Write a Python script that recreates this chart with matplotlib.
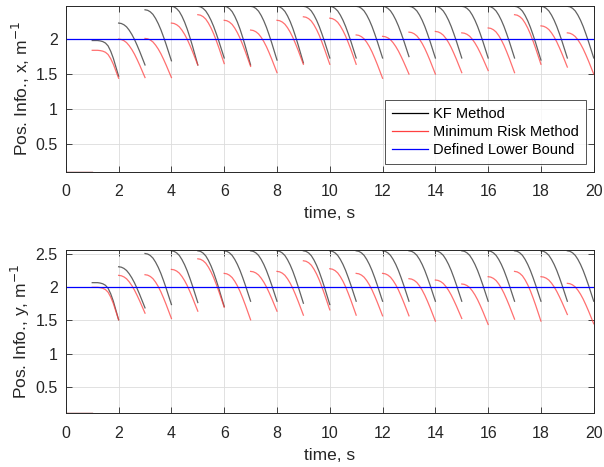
import numpy as np
import matplotlib
matplotlib.use('Agg')
import matplotlib.pyplot as plt

plt.rcParams['font.family'] = ['Liberation Sans', 'DejaVu Sans']

# Data: each segment runs from t0 to t0 + 1 s
seg_start = [1, 2, 3, 4, 5, 6, 7, 8, 9, 10, 11, 12, 13, 14, 15, 16, 17, 18, 19]

# x channel (top plot)
x_kf_start = [1.98, 2.23, 2.42, 2.47, 2.47, 2.47, 2.47, 2.47, 2.47, 2.47,
              2.47, 2.47, 2.47, 2.47, 2.47, 2.47, 2.47, 2.47, 2.47]
x_kf_end = [1.47, 1.63, 1.69, 1.63, 1.73, 1.63, 1.70, 1.66, 1.73, 1.73,
            1.73, 1.75, 1.73, 1.73, 1.73, 1.73, 1.70, 1.73, 1.73]
x_mr_start = [1.84, 2.00, 2.01, 2.23, 2.35, 2.27, 2.13, 2.27, 2.32, 2.30,
              2.06, 2.04, 2.10, 2.11, 2.09, 2.16, 2.35, 2.19, 2.09]
x_mr_end = [1.44, 1.45, 1.45, 1.63, 1.65, 1.61, 1.52, 1.64, 1.64, 1.64,
            1.44, 1.50, 1.50, 1.52, 1.55, 1.52, 1.64, 1.60, 1.50]

# y channel (bottom plot)
y_kf_start = [2.07, 2.31, 2.51, 2.55, 2.55, 2.55, 2.55, 2.55, 2.55, 2.55,
              2.55, 2.55, 2.55, 2.55, 2.55, 2.55, 2.55, 2.55, 2.55]
y_kf_end = [1.51, 1.69, 1.74, 1.77, 1.71, 1.79, 1.79, 1.76, 1.74, 1.79,
            1.79, 1.79, 1.79, 1.79, 1.79, 1.79, 1.79, 1.79, 1.79]
y_mr_start = [2.00, 2.18, 2.19, 2.27, 2.43, 2.21, 2.24, 2.24, 2.40, 2.28,
              2.21, 2.21, 2.13, 2.11, 2.05, 2.16, 2.24, 2.16, 2.06]
y_mr_end = [1.51, 1.61, 1.53, 1.64, 1.70, 1.51, 1.64, 1.58, 1.66, 1.58,
            1.57, 1.57, 1.49, 1.53, 1.44, 1.52, 1.49, 1.59, 1.45]

# normalised drop within one second
tau = [0.0, 0.1, 0.2, 0.3, 0.4, 0.5, 0.6, 0.7, 0.8, 0.9, 1.0]
drop = [0.0, 0.01, 0.04, 0.09, 0.17, 0.27, 0.39, 0.53, 0.68, 0.84, 1.0]
drop_first = [0.0, 0.0, 0.0, 0.01, 0.03, 0.07, 0.15, 0.30, 0.50, 0.75, 1.0]

init_t = [0, 1]
init_val = [0.1, 0.1]
lower_bound = 2.0

kf_color = '#202020'
mr_color = '#ff4040'
lb_color = '#0000ff'


def draw_panel(ax, kf_s, kf_e, mr_s, mr_e, ylim, yticks, ylabel):
    ax.plot(init_t, init_val, color=kf_color, lw=0.9)
    ax.plot(init_t, init_val, color=mr_color, lw=0.9)
    for i, t0 in enumerate(seg_start):
        prof = np.array(drop_first if i == 0 else drop)
        tt = t0 + np.array(tau)
        ax.plot(tt, kf_s[i] + (kf_e[i] - kf_s[i]) * prof, color=kf_color, lw=0.9, alpha=0.7)
        ax.plot(tt, mr_s[i] + (mr_e[i] - mr_s[i]) * prof, color=mr_color, lw=0.9, alpha=0.75)
    ax.axhline(lower_bound, color=lb_color, lw=0.9)
    ax.set_xlim(0, 20)
    ax.set_ylim(*ylim)
    ax.set_xticks(np.arange(0, 21, 2))
    ax.set_yticks(yticks)
    ax.set_yticklabels([('%g' % v) for v in yticks])
    ax.grid(True, color='#dcdcdc', lw=0.6)
    ax.set_axisbelow(True)
    ax.tick_params(direction='in', top=True, right=True, labelsize=11.5,
                   colors='#262626', length=4, width=0.6)
    ax.tick_params(axis='x', pad=9)
    ax.tick_params(axis='y', pad=6)
    for s in ax.spines.values():
        s.set_color('#262626')
        s.set_linewidth(0.7)
    ax.set_xlabel('time, s', fontsize=12.5, color='#262626', labelpad=5)
    ax.set_ylabel(ylabel, fontsize=12.5, color='#262626', labelpad=2)


fig = plt.figure(figsize=(6.04, 4.67), dpi=100)
ax1 = fig.add_axes([0.109, 0.632, 0.874, 0.356])
ax2 = fig.add_axes([0.109, 0.115, 0.874, 0.350])

draw_panel(ax1, x_kf_start, x_kf_end, x_mr_start, x_mr_end,
           (0.1, 2.48), [0.5, 1, 1.5, 2], 'Pos. Info., x, m$^{-1}$')
draw_panel(ax2, y_kf_start, y_kf_end, y_mr_start, y_mr_end,
           (0.1, 2.565), [0.5, 1, 1.5, 2, 2.5], 'Pos. Info., y, m$^{-1}$')

handles = [plt.Line2D([], [], color='k', lw=0.9),
           plt.Line2D([], [], color=mr_color, lw=0.9),
           plt.Line2D([], [], color=lb_color, lw=0.9)]
leg = ax1.legend(handles, ['KF Method', 'Minimum Risk Method', 'Defined Lower Bound'],
                 loc='lower right', bbox_to_anchor=(0.99, 0.03), fontsize=10.5,
                 frameon=True, fancybox=False, edgecolor='#262626',
                 handlelength=2.5, borderpad=0.45, labelspacing=0.3, handletextpad=0.35,
                 borderaxespad=0.2)
leg.get_frame().set_linewidth(0.7)

fig.savefig('out.png', dpi=100)
